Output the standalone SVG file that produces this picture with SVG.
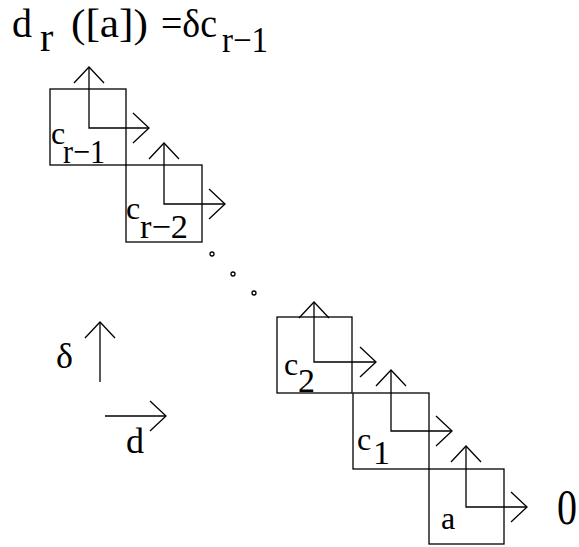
<svg xmlns="http://www.w3.org/2000/svg" width="579" height="547" viewBox="0 0 579 547">
<style>
.ln{fill:none;stroke:#000;stroke-width:1.3}
.t{font-family:"Liberation Serif","Times New Roman",serif;fill:#000}
.dot{fill:none;stroke:#000;stroke-width:1.3}
</style>
<defs>
<path id="up" class="ln" d="M-15,16 L0,0 L15,16"/>
<path id="rt" class="ln" d="M-16,-15 L0,0 L-16,15"/>
</defs>
<rect width="579" height="547" fill="#fff"/>
<g id="title">
<text class="t" x="12" y="37" font-size="40">d</text>
<text class="t" x="40" y="51" font-size="40">r</text>
<text class="t" x="71" y="37" font-size="40" textLength="77" lengthAdjust="spacingAndGlyphs">([a])</text>
<text class="t" x="161" y="37" font-size="40" textLength="56" lengthAdjust="spacingAndGlyphs">=δc</text>
<text class="t" x="222" y="52" font-size="36" textLength="46" lengthAdjust="spacingAndGlyphs">r−1</text>
</g>
<g id="node-cr1">
<rect class="ln" x="50" y="89" width="76" height="76"/>
<text class="t" x="51" y="144" font-size="32">c</text>
<text class="t" x="63" y="163" font-size="34" textLength="42" lengthAdjust="spacingAndGlyphs">r−1</text>
</g>
<g id="node-cr2">
<rect class="ln" x="126" y="165" width="76" height="77"/>
<text class="t" x="126" y="219" font-size="32">c</text>
<text class="t" x="140" y="238" font-size="34" textLength="48" lengthAdjust="spacingAndGlyphs">r−2</text>
</g>
<g id="node-c2">
<rect class="ln" x="277" y="317" width="75" height="76"/>
<text class="t" x="284" y="375" font-size="32">c</text>
<text class="t" x="298" y="392" font-size="34">2</text>
</g>
<g id="node-c1">
<rect class="ln" x="353" y="393" width="76" height="76"/>
<text class="t" x="357" y="450" font-size="32">c</text>
<text class="t" x="373" y="464" font-size="34">1</text>
</g>
<g id="node-a">
<rect class="ln" x="429" y="469" width="75" height="75"/>
<text class="t" x="441" y="529" font-size="32">a</text>
</g>
<g id="zero">
<text class="t" transform="translate(557,524) scale(1,1.25)" font-size="40">0</text>
</g>
<g id="dots">
<circle class="dot" cx="212" cy="254" r="2"/>
<circle class="dot" cx="233" cy="274" r="2"/>
<circle class="dot" cx="254" cy="293" r="2"/>
</g>
<g id="legend">
<text class="t" x="56" y="368" font-size="36">δ</text>
<text class="t" x="126" y="453" font-size="36">d</text>
</g>
<g id="connectors">
<path class="ln" d="M89,67 V128 H149"/>
<use href="#up" x="89" y="67"/><use href="#rt" x="149" y="128"/>
<path class="ln" d="M164,143 V204 H225"/>
<use href="#up" x="164" y="143"/><use href="#rt" x="225" y="204"/>
<path class="ln" d="M314,302 V362 H376"/>
<use href="#up" x="314" y="302"/><use href="#rt" x="376" y="362"/>
<path class="ln" d="M391,370 V431 H452"/>
<use href="#up" x="391" y="370"/><use href="#rt" x="452" y="431"/>
<path class="ln" d="M466,446 V507 H527"/>
<use href="#up" x="466" y="446"/><use href="#rt" x="527" y="507"/>
<path class="ln" d="M100,322 V382"/>
<use href="#up" x="100" y="322"/>
<path class="ln" d="M105,416 H166"/>
<use href="#rt" x="166" y="416"/>
</g>
</svg>
